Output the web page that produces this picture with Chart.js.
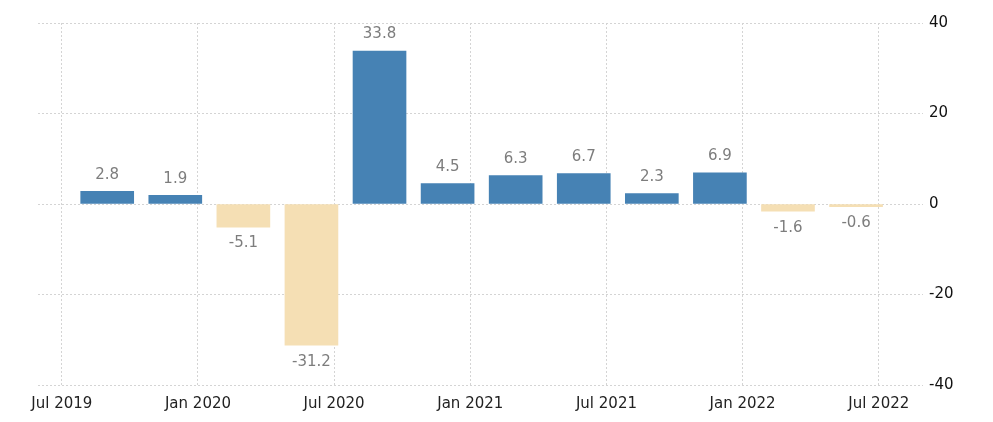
<!DOCTYPE html>
<html lang="en">
<head>
<meta charset="UTF-8" />
<title>GDP Growth Rate</title>
<script src="https://cdn.jsdelivr.net/npm/chart.js"></script>
<style>
  html, body { margin: 0; padding: 0; background: #fff; }
  .chart-box { width: 993px; height: 422px; position: relative; }
</style>
</head>
<body>
<div class="chart-box"><canvas id="gdpChart"></canvas></div>
<script>
// quarter (month of bar) and growth values
const quarters = ["2019-09", "2019-12", "2020-03", "2020-06", "2020-09", "2020-12",
                  "2021-03", "2021-06", "2021-09", "2021-12", "2022-03", "2022-06"];
const growth = [2.8, 1.9, -5.1, -31.2, 33.8, 4.5, 6.3, 6.7, 2.3, 6.9, -1.6, -0.6];
const tickLabels = ["Jul 2019", "Jan 2020", "Jul 2020", "Jan 2021", "Jul 2021", "Jan 2022", "Jul 2022"];
const startMonth = "2019-07";

const POS = "#4682b4";
const NEG = "#f5dfb4";

function monthIndex(s) {
  const [y, m] = s.split("-").map(Number);
  const [y0, m0] = startMonth.split("-").map(Number);
  return (y - y0) * 12 + (m - m0);
}

const points = quarters.map((q, i) => ({ x: monthIndex(q), y: growth[i] }));

// value labels above / below bars
const valueLabels = {
  id: "valueLabels",
  afterDatasetsDraw(chart) {
    const ctx = chart.ctx;
    const meta = chart.getDatasetMeta(0);
    ctx.save();
    ctx.font = "15px 'DejaVu Sans'";
    ctx.fillStyle = "#7d7d7d";
    ctx.textAlign = "center";
    meta.data.forEach((bar, i) => {
      const v = growth[i];
      if (v >= 0) {
        ctx.textBaseline = "bottom";
        ctx.fillText(v.toFixed(1), bar.x, bar.y - 9);
      } else {
        ctx.textBaseline = "top";
        ctx.fillText(v.toFixed(1), bar.x, bar.y + 9);
      }
    });
    ctx.restore();
  },
};

new Chart(document.getElementById("gdpChart"), {
  type: "bar",
  data: {
    datasets: [
      {
        data: points,
        backgroundColor: growth.map((v) => (v >= 0 ? POS : NEG)),
        borderWidth: 0,
        barThickness: 53,
      },
    ],
  },
  options: {
    responsive: true,
    maintainAspectRatio: false,
    animation: false,
    layout: { padding: { left: 38, top: 23, right: 0, bottom: 0 } },
    plugins: { legend: { display: false }, tooltip: { enabled: false } },
    scales: {
      x: {
        type: "linear",
        offset: false,
        min: -1.05,
        max: 37.95,
        grid: { color: "#d4d4d4", drawTicks: false, offset: false },
        border: { display: false, dash: [2, 2] },
        ticks: {
          stepSize: 6,
          includeBounds: false,
          autoSkip: false,
          maxRotation: 0,
          padding: 10,
          color: "#222",
          font: { family: "DejaVu Sans", size: 15 },
          callback: (v) => tickLabels[v / 6],
        },
        afterFit: (s) => { s.height = 37; },
      },
      y: {
        position: "right",
        min: -40,
        max: 40,
        grid: { color: "#d4d4d4", drawTicks: false },
        border: { display: false, dash: [2, 2] },
        ticks: {
          stepSize: 20,
          padding: 6,
          color: "#111",
          font: { family: "DejaVu Sans", size: 15 },
        },
        afterFit: (s) => { s.width = 70; },
      },
    },
  },
  plugins: [valueLabels],
});
</script>
</body>
</html>
